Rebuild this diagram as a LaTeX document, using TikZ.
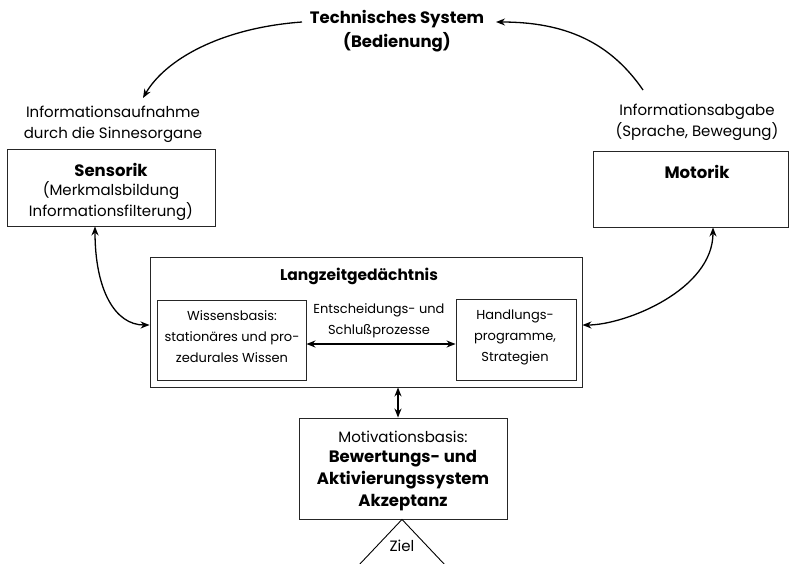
\documentclass[tikz,border=0pt]{standalone}
\usepackage{fontspec}
\setmainfont{Poppins}
\usetikzlibrary{arrows.meta}
\begin{document}
\begin{tikzpicture}[x=1pt,y=-1pt,
  box/.style={draw=black!85,line width=0.9pt,minimum width=#1,inner sep=0pt},
  txt/.style={align=center,inner sep=0pt,font=\fontsize{15}{21}\selectfont},
  stxt/.style={align=center,inner sep=0pt,font=\fontsize{13}{21}\selectfont},
  btxt/.style={align=center,inner sep=0pt,font=\fontsize{16.5}{22}\selectfont\bfseries},
  conn/.style={line width=1.3pt,-{Stealth[length=9pt,width=7pt]}},
  dconn/.style={line width=1.3pt,{Stealth[length=9pt,width=7pt]}-{Stealth[length=9pt,width=7pt]}}]
\useasboundingbox (0,0) rectangle (794,564);
% boxes
\node[box=208pt,minimum height=77pt] (sens) at (111,187.5) {};
\node[box=195pt,minimum height=76pt] (mot) at (690.5,189) {};
\node[box=432pt,minimum height=130pt] (lzg) at (366,322) {};
\node[box=149pt,minimum height=80pt] (wiss) at (231.5,340) {};
\node[box=120pt,minimum height=81pt] (hand) at (516,339.5) {};
\node[box=208pt,minimum height=101pt] (motiv) at (403,468.5) {};
% texts
\node[btxt,font=\fontsize{16.5}{24}\selectfont\bfseries] (title) at (397,31) {Technisches System\\(Bedienung)};
\node[txt] (aufn) at (113,124) {Informationsaufnahme\\durch die Sinnesorgane};
\node[txt] (abg) at (697,122) {Informationsabgabe\\(Sprache, Bewegung)};
\node[btxt] (senst) at (111,170) {Sensorik};
\node[txt] (senst2) at (111,201) {(Merkmalsbildung\\Informationsfilterung)};
\node[btxt] (mott) at (697,172) {Motorik};
\node[btxt,font=\fontsize{15.5}{21}\selectfont\bfseries] (lzgt) at (359,276) {Langzeitgedächtnis};
\node[stxt] (wisst) at (232,337) {Wissensbasis:\\stationäres und pro-\\zedurales Wissen};
\node[stxt] (handt) at (515,337) {Handlungs-\\programme,\\Strategien};
\node[stxt] (ents) at (379,321) {Entscheidungs- und\\Schlußprozesse};
\node[txt] (motivt) at (403,437) {Motivationsbasis:};
\node[btxt] (motivt2) at (403,481) {Bewertungs- und\\Aktivierungssystem\\Akzeptanz};
\node[txt] (ziel) at (402,546) {Ziel};
% connectors
\coordinate (tl) at (302,22);
\coordinate (tr) at (496,22);
\coordinate (al) at (143,98);
\coordinate (ar) at (643,90);
\draw[conn] (tl) .. controls (220,28) and (165,60) .. (al);
\draw[conn] (ar) .. controls (610,42) and (565,22) .. (tr);
\draw[dconn] (sens.south -| 95,0) .. controls (95,290) and (115,325) .. (lzg.west |- 0,325);
\draw[dconn] (mot.south -| 713,0) .. controls (713,290) and (625,325) .. (lzg.east |- 0,325);
\draw[dconn] (wiss.east |- 0,344) -- (hand.west |- 0,344);
\draw[dconn] (lzg.south -| 398,0) -- (motiv.north -| 398,0);
\coordinate (zl) at (358,566);
\coordinate (zr) at (446,566);
\draw[line width=0.9pt] (zl) -- (motiv.south -| 402,0) -- (zr);
\end{tikzpicture}
\end{document}
